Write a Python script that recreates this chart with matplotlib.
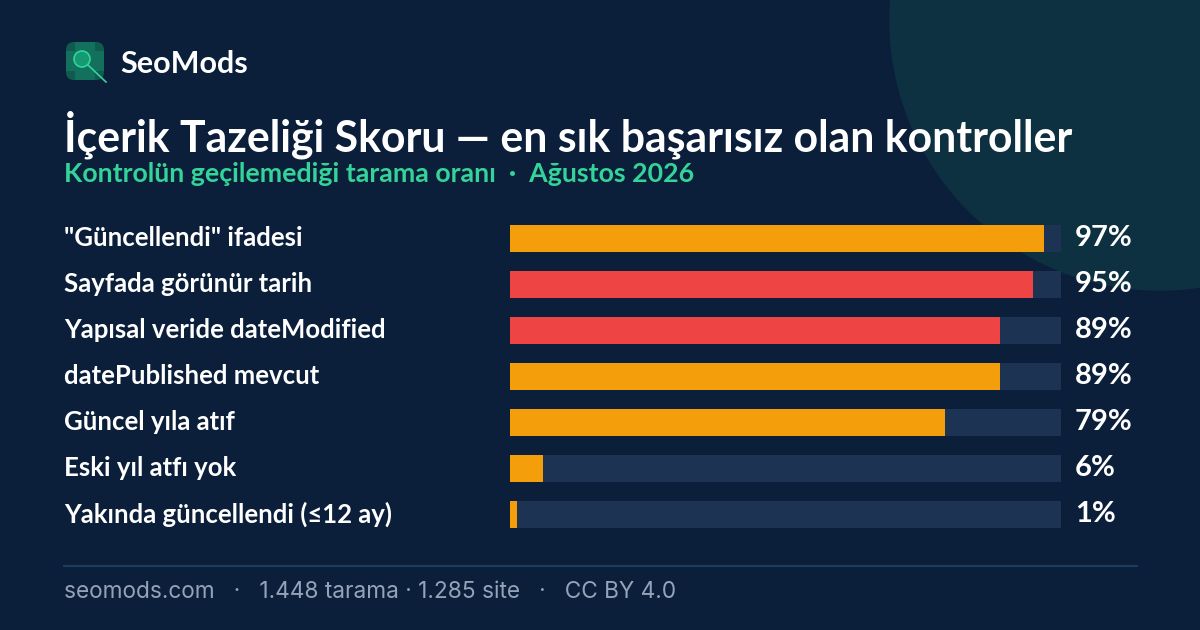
import matplotlib
matplotlib.use("Agg")
import matplotlib.pyplot as plt
from matplotlib.patches import Circle, FancyBboxPatch, Rectangle

# data
labels = [
    '"Güncellendi" ifadesi',
    "Sayfada görünür tarih",
    "Yapısal veride dateModified",
    "datePublished mevcut",
    "Güncel yıla atıf",
    "Eski yıl atfı yok",
    "Yakında güncellendi (≤12 ay)",
]
values = [97, 95, 89, 89, 79, 6, 1]
severity = ["warn", "bad", "bad", "warn", "warn", "warn", "warn"]

BG = "#0b1f3a"
TRACK = "#1c3354"
COLORS = {"warn": "#f59e0b", "bad": "#ef4444"}
GREEN = "#34d399"
MUTED = "#94a3b8"

W, H = 1200, 630
fig = plt.figure(figsize=(12, 6.3), dpi=100)
fig.patch.set_facecolor(BG)

# background canvas in pixel coords (y down)
bg = fig.add_axes([0, 0, 1, 1])
bg.set_xlim(0, W)
bg.set_ylim(H, 0)
bg.axis("off")
bg.add_patch(Circle((1160, 20), 270, color="#0e3142", zorder=0))

# logo
bg.add_patch(FancyBboxPatch((66, 42), 38, 38, boxstyle="round,pad=0,rounding_size=8",
                            fc="#0f5b4f", ec="none", zorder=1))
bg.add_patch(Rectangle((75, 42), 20, 38, fc="#13705c", ec="none", zorder=1))
bg.add_patch(Rectangle((66, 51), 38, 20, fc="#13705c", ec="none", zorder=1))
bg.add_patch(Circle((82, 59), 8, fc="#159a74", ec="#34d399", lw=1.2, zorder=2))
bg.plot([88, 106], [65, 82], color="#34d399", lw=1.2, zorder=2)
bg.text(120, 64, "SeoMods", color="white", fontsize=22, fontweight="bold",
        family="Lato", va="center", ha="left")

bg.text(64, 135, "İçerik Tazeliği Skoru — en sık başarısız olan kontroller",
        color="white", fontsize=30.8, fontweight="bold", family="Lato",
        va="center", ha="left")
bg.text(64, 174, "Kontrolün geçilemediği tarama oranı  ·  Ağustos 2026",
        color=GREEN, fontsize=19.3, fontweight="bold", family="Lato",
        va="center", ha="left")

# footer
bg.plot([64, 1137], [566, 566], color="#1e3a5f", lw=1.5)
bg.text(64, 592, "seomods.com   ·   1.448 tarama · 1.285 site   ·   CC BY 4.0",
        color=MUTED, fontsize=16.3, family="Inter", va="center", ha="left")

# bars
left, right = 510, 1061
top, bottom = 215, 537
ax = fig.add_axes([left / W, (H - bottom) / H, (right - left) / W, (bottom - top) / H])
ax.set_facecolor("none")
ax.set_xlim(0, 100)
ax.set_ylim(len(values) - 0.5, -0.5)
ax.axis("off")

ypos = list(range(len(values)))
bh = 27 / 46
ax.barh(ypos, [100] * len(values), height=bh, color=TRACK, zorder=1)
ax.barh(ypos, [max(v, 1.3) for v in values], height=bh,
        color=[COLORS[s] for s in severity], zorder=2)

for y, lab, v in zip(ypos, labels, values):
    ax.annotate(lab, xy=(0, y), xycoords="data", xytext=(64 - left, 0),
                textcoords="offset pixels", color="white", fontsize=18.5,
                fontweight="bold", family="Lato", va="center", ha="left")
    ax.annotate(f"{v}%", xy=(100, y), xycoords="data", xytext=(14, 0),
                textcoords="offset pixels", color="white", fontsize=21,
                fontweight="bold", family="Lato", va="center", ha="left")

fig.savefig("out.png", dpi=100, facecolor=BG)
